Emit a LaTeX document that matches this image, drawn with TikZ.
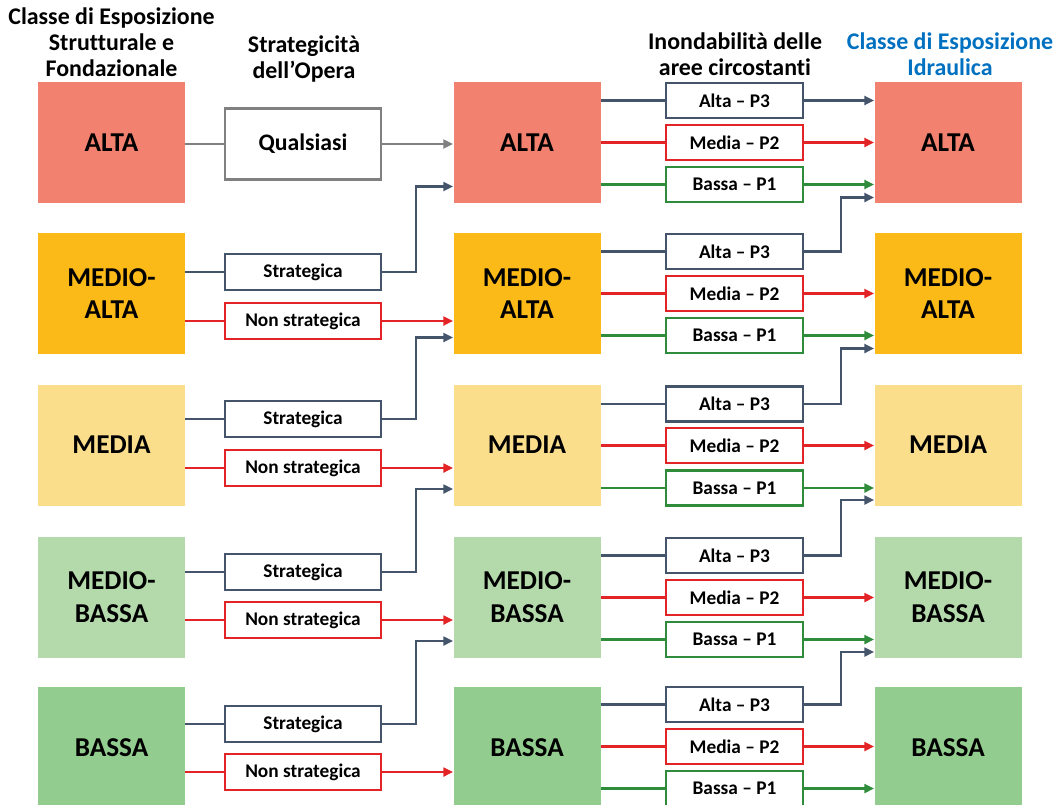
\documentclass[tikz,border=0pt]{standalone}
\usepackage{fontspec}
\setmainfont{Carlito}[Ligatures={TeX,NoCommon}]
\usepackage{tikz}
\usetikzlibrary{arrows.meta,positioning,calc}
\usepackage{xcolor}
\definecolor{ealta}{RGB}{242,129,112}
\definecolor{emedioalta}{RGB}{251,186,24}
\definecolor{emedia}{RGB}{250,222,140}
\definecolor{emediobassa}{RGB}{180,218,172}
\definecolor{ebassa}{RGB}{146,204,142}
\definecolor{linedark}{RGB}{68,84,106}
\definecolor{linered}{RGB}{226,36,38}
\definecolor{linegreen}{RGB}{46,140,58}
\definecolor{linegray}{RGB}{128,128,128}
\definecolor{titleblue}{RGB}{0,112,192}

\begin{document}
\begin{tikzpicture}[>={Triangle[length=5.5pt,width=5pt]},
    classbox/.style={rectangle, minimum width=2.94cm, minimum height=2.42cm, align=center, inner sep=0pt, font=\fontsize{15.5}{18.6}\selectfont\bfseries},
    stratbox/.style={rectangle, draw, line width=1.4pt, fill=white, minimum width=3.12cm, minimum height=0.72cm, inner sep=0pt, font=\fontsize{11}{13}\selectfont\bfseries},
    floodbox/.style={rectangle, draw, line width=1.4pt, fill=white, minimum width=2.74cm, minimum height=0.7cm, inner sep=0pt, font=\fontsize{11}{13}\selectfont\bfseries},
    header/.style={align=center, font=\fontsize{13.6}{14.8}\selectfont\bfseries},
    dk/.style={draw=linedark, line width=1.3pt},
    rd/.style={draw=linered, line width=1.3pt},
    gn/.style={draw=linegreen, line width=1.3pt},
    gy/.style={draw=linegray, line width=1.3pt}]

    \useasboundingbox (0,0) rectangle (21.28,-16.08);

    % Headers
    \node[header] (h1) at (2.23,-0.85) {Classe di Esposizione\\Strutturale e\\Fondazionale};
    \node[header] (h2) at (6.08,-1.18) {Strategicità\\dell’Opera};
    \node[header] (h3) at (14.70,-1.08) {Inondabilità delle\\aree circostanti};
    \node[header, text=titleblue] (h4) at (19.00,-1.08) {Classe di Esposizione\\Idraulica};

    % Structural classes
    \node[classbox, fill=ealta] (alta1) at (2.23,-2.85) {ALTA};
    \node[classbox, fill=emedioalta] (medioalta1) at (2.23,-5.87) {MEDIO-\\ALTA};
    \node[classbox, fill=emedia] (media1) at (2.23,-8.90) {MEDIA};
    \node[classbox, fill=emediobassa] (mediobassa1) at (2.23,-11.94) {MEDIO-\\BASSA};
    \node[classbox, fill=ebassa] (bassa1) at (2.23,-14.95) {BASSA};

    % Intermediate classes
    \node[classbox, fill=ealta] (alta2) at (10.54,-2.85) {ALTA};
    \node[classbox, fill=emedioalta] (medioalta2) at (10.54,-5.87) {MEDIO-\\ALTA};
    \node[classbox, fill=emedia] (media2) at (10.54,-8.90) {MEDIA};
    \node[classbox, fill=emediobassa] (mediobassa2) at (10.54,-11.94) {MEDIO-\\BASSA};
    \node[classbox, fill=ebassa] (bassa2) at (10.54,-14.95) {BASSA};

    % Hydraulic classes
    \node[classbox, fill=ealta] (alta3) at (18.96,-2.85) {ALTA};
    \node[classbox, fill=emedioalta] (medioalta3) at (18.96,-5.87) {MEDIO-\\ALTA};
    \node[classbox, fill=emedia] (media3) at (18.96,-8.90) {MEDIA};
    \node[classbox, fill=emediobassa] (mediobassa3) at (18.96,-11.94) {MEDIO-\\BASSA};
    \node[classbox, fill=ebassa] (bassa3) at (18.96,-14.95) {BASSA};

    % Strategic relevance
    \node[stratbox, draw=linegray, minimum height=1.42cm, font=\fontsize{13.5}{16}\selectfont\bfseries] (qual) at (6.06,-2.88) {Qualsiasi};
    \node[stratbox, draw=linedark] (str2) at (6.06,-5.44) {Strategica};
    \node[stratbox, draw=linered] (non2) at (6.06,-6.42) {Non strategica};
    \node[stratbox, draw=linedark] (str3) at (6.06,-8.38) {Strategica};
    \node[stratbox, draw=linered] (non3) at (6.06,-9.36) {Non strategica};
    \node[stratbox, draw=linedark] (str4) at (6.06,-11.44) {Strategica};
    \node[stratbox, draw=linered] (non4) at (6.06,-12.40) {Non strategica};
    \node[stratbox, draw=linedark] (str5) at (6.06,-14.48) {Strategica};
    \node[stratbox, draw=linered] (non5) at (6.06,-15.44) {Non strategica};

    % Flooding of surrounding areas
    \node[floodbox, draw=linedark] (fa3) at (14.69,-2.01) {Alta -- P3};
    \node[floodbox, draw=linered] (fa2) at (14.69,-2.85) {Media -- P2};
    \node[floodbox, draw=linegreen] (fa1) at (14.69,-3.69) {Bassa -- P1};
    \node[floodbox, draw=linedark] (fma3) at (14.69,-5.03) {Alta -- P3};
    \node[floodbox, draw=linered] (fma2) at (14.69,-5.87) {Media -- P2};
    \node[floodbox, draw=linegreen] (fma1) at (14.69,-6.71) {Bassa -- P1};
    \node[floodbox, draw=linedark] (fm3) at (14.69,-8.08) {Alta -- P3};
    \node[floodbox, draw=linered] (fm2) at (14.69,-8.91) {Media -- P2};
    \node[floodbox, draw=linegreen] (fm1) at (14.69,-9.76) {Bassa -- P1};
    \node[floodbox, draw=linedark] (fmb3) at (14.69,-11.11) {Alta -- P3};
    \node[floodbox, draw=linered] (fmb2) at (14.69,-11.95) {Media -- P2};
    \node[floodbox, draw=linegreen] (fmb1) at (14.69,-12.79) {Bassa -- P1};
    \node[floodbox, draw=linedark] (fb3) at (14.69,-14.09) {Alta -- P3};
    \node[floodbox, draw=linered] (fb2) at (14.69,-14.93) {Media -- P2};
    \node[floodbox, draw=linegreen] (fb1) at (14.69,-15.77) {Bassa -- P1};

    % Arrows: structural -> strategic -> intermediate
    \draw[gy] (alta1.east |- qual) -- (qual);
    \draw[gy, ->] (qual) -- (qual -| alta2.west);
    \draw[dk] (medioalta1.east |- str2) -- (str2);
    \draw[rd] (medioalta1.east |- non2) -- (non2);
    \draw[dk] (media1.east |- str3) -- (str3);
    \draw[rd] (media1.east |- non3) -- (non3);
    \draw[dk] (mediobassa1.east |- str4) -- (str4);
    \draw[rd] (mediobassa1.east |- non4) -- (non4);
    \draw[dk] (bassa1.east |- str5) -- (str5);
    \draw[rd] (bassa1.east |- non5) -- (non5);
    \draw[rd, ->] (non2) -- (non2 -| medioalta2.west);
    \draw[rd, ->] (non3) -- (non3 -| media2.west);
    \draw[rd, ->] (non4) -- (non4 -| mediobassa2.west);
    \draw[rd, ->] (non5) -- (non5 -| bassa2.west);
    \draw[dk, ->] (str2.east) -- ++(0.68,0) |- ($(alta2.west)+(0,-0.88)$);
    \draw[dk, ->] (str3.east) -- ++(0.68,0) |- ($(medioalta2.west)+(0,-0.88)$);
    \draw[dk, ->] (str4.east) -- ++(0.68,0) |- ($(media2.west)+(0,-0.88)$);
    \draw[dk, ->] (str5.east) -- ++(0.68,0) |- ($(mediobassa2.west)+(0,-0.88)$);

    % Arrows: intermediate -> flooding -> hydraulic
    \draw[dk] (alta2.east |- fa3) -- (fa3);
    \draw[rd] (alta2.east |- fa2) -- (fa2);
    \draw[gn] (alta2.east |- fa1) -- (fa1);
    \draw[dk] (medioalta2.east |- fma3) -- (fma3);
    \draw[rd] (medioalta2.east |- fma2) -- (fma2);
    \draw[gn] (medioalta2.east |- fma1) -- (fma1);
    \draw[dk] (media2.east |- fm3) -- (fm3);
    \draw[rd] (media2.east |- fm2) -- (fm2);
    \draw[gn] (media2.east |- fm1) -- (fm1);
    \draw[dk] (mediobassa2.east |- fmb3) -- (fmb3);
    \draw[rd] (mediobassa2.east |- fmb2) -- (fmb2);
    \draw[gn] (mediobassa2.east |- fmb1) -- (fmb1);
    \draw[dk] (bassa2.east |- fb3) -- (fb3);
    \draw[rd] (bassa2.east |- fb2) -- (fb2);
    \draw[gn] (bassa2.east |- fb1) -- (fb1);

    \draw[dk, ->] (fa3) -- (fa3 -| alta3.west);
    \draw[rd, ->] (fa2) -- (fa2 -| alta3.west);
    \draw[gn, ->] (fa1) -- (fa1 -| alta3.west);
    \draw[rd, ->] (fma2) -- (fma2 -| medioalta3.west);
    \draw[gn, ->] (fma1) -- (fma1 -| medioalta3.west);
    \draw[rd, ->] (fm2) -- (fm2 -| media3.west);
    \draw[gn, ->] (fm1) -- (fm1 -| media3.west);
    \draw[rd, ->] (fmb2) -- (fmb2 -| mediobassa3.west);
    \draw[gn, ->] (fmb1) -- (fmb1 -| mediobassa3.west);
    \draw[rd, ->] (fb2) -- (fb2 -| bassa3.west);
    \draw[gn, ->] (fb1) -- (fb1 -| bassa3.west);
    \draw[dk, ->] (fma3.east) -- ++(0.74,0) |- ($(alta3.west)+(0,-1.10)$);
    \draw[dk, ->] (fm3.east) -- ++(0.74,0) |- ($(medioalta3.west)+(0,-1.10)$);
    \draw[dk, ->] (fmb3.east) -- ++(0.74,0) |- ($(media3.west)+(0,-1.10)$);
    \draw[dk, ->] (fb3.east) -- ++(0.74,0) |- ($(mediobassa3.west)+(0,-1.10)$);
\end{tikzpicture}
\end{document}
